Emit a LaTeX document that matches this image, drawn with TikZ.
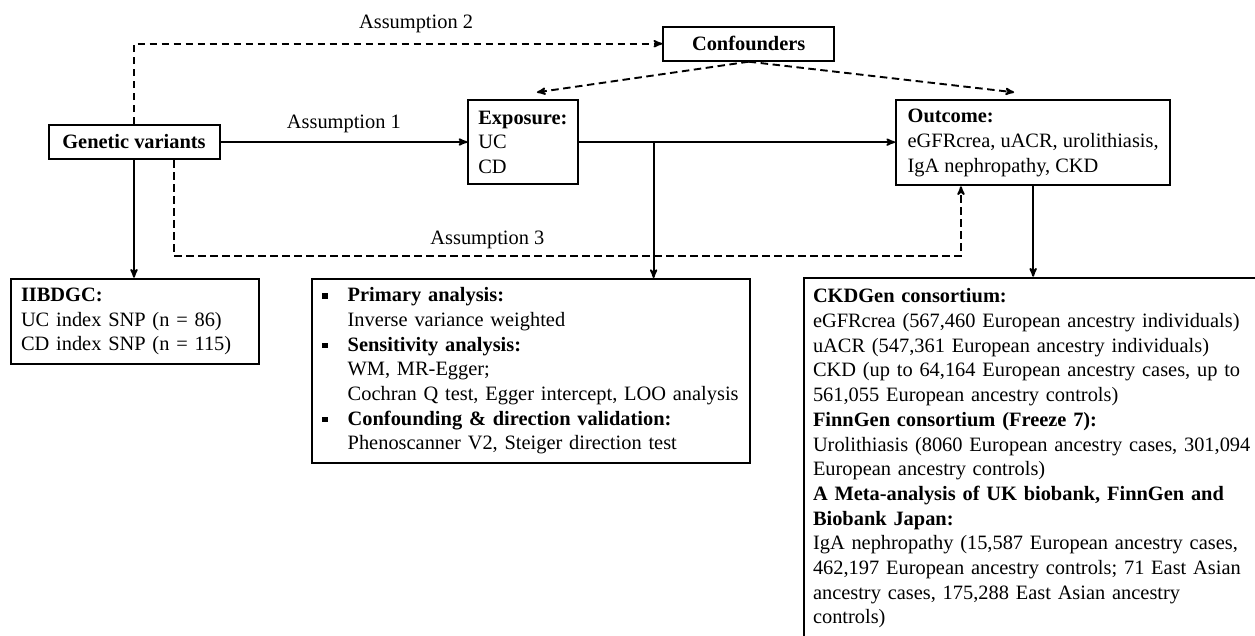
\documentclass[tikz,border=0pt]{standalone}
\usepackage{fontspec}
\setmainfont{Liberation Serif}
\usepackage{tikz}
\usetikzlibrary{shapes,arrows}
\tikzstyle{box} = [draw, rectangle, line width=2pt, align=left, font=\fontsize{20.4}{24.7}\selectfont]
\tikzstyle{lbl} = [font=\fontsize{20.4}{24.7}\selectfont, inner sep=3pt]
\tikzstyle{dashline} = [dash pattern=on 7.5pt off 4.5pt]
\newcommand{\sqbullet}{\makebox[25.7pt][l]{\rule[3pt]{5.5pt}{5.5pt}}}
\newcommand{\sqindent}{\hspace*{25.7pt}}

\begin{document}
\begin{tikzpicture}[->,>=stealth',x=1pt,y=1pt,line width=1.9pt]

\useasboundingbox (0,-635) rectangle (1255,0);
\clip (0,-635) rectangle (1255,0);

\node[box, align=center, minimum width=171pt, minimum height=34pt] (gen) at (134,-142) {\textbf{Genetic variants}};
\node[box, align=center, minimum width=171pt, minimum height=34pt] (conf) at (748.7,-43.7) {\textbf{Confounders}};
\node[box, anchor=north west, minimum width=109.3pt, minimum height=84.3pt] (expo) at (467.3,-99) {\textbf{Exposure:}\\UC\\CD};
\node[box, anchor=north west, minimum width=274.3pt, minimum height=85pt] (outc) at (895,-99.3) {\textbf{Outcome:}\\eGFRcrea, uACR, urolithiasis,\\IgA nephropathy, CKD};

\node[box, anchor=north west, text width=227.7pt, inner xsep=10pt, minimum height=85.7pt] (iibd) at (10,-277.7) {\textbf{IIBDGC:}\\UC index SNP (n = 86)\\CD index SNP (n = 115)};
\node[box, anchor=north west, text width=418pt, inner xsep=10pt, minimum height=184pt] (anal) at (311,-278) {\sqbullet\textbf{Primary analysis:}\\
\sqindent Inverse variance weighted\\
\sqbullet\textbf{Sensitivity analysis:}\\
\sqindent WM, MR-Egger;\\
\sqindent\mbox{Cochran Q test, Egger intercept, LOO analysis}\\
\sqbullet\textbf{Confounding \& direction validation:}\\
\sqindent Phenoscanner V2, Steiger direction test};
\node[box, anchor=north west, text width=450pt, inner xsep=9.3pt, inner ysep=11pt] (data) at (802.7,-276.7) {\textbf{CKDGen consortium:}\\
eGFRcrea (567,460 European ancestry individuals)\\
uACR (547,361 European ancestry individuals)\\
CKD (up to 64,164 European ancestry cases, up to\\
561,055 European ancestry controls)\\
\textbf{FinnGen consortium (Freeze 7):}\\
Urolithiasis (8060 European ancestry cases, 301,094\\
European ancestry controls)\\
\textbf{A Meta-analysis of UK biobank, FinnGen and}\\
\textbf{Biobank Japan:}\\
IgA nephropathy (15,587 European ancestry cases,\\
462,197 European ancestry controls; 71 East Asian\\
ancestry cases, 175,288 East Asian ancestry\\
controls)};

\coordinate (split) at ([xshift=75pt]expo.east);
\coordinate (expotip) at ([xshift=14pt,yshift=6.7pt]expo.north);
\coordinate (outctip) at ([xshift=-19pt,yshift=7pt]outc.north);

% causal paths
\draw (gen.east) -- node[lbl, above=5.4pt] {Assumption 1} (gen.east -| expo.west);
\draw[dashline] (gen.north) |- node[lbl, pos=0.767, above=7.3pt] {Assumption 2} (conf.west);
\draw[dashline] (conf.south) -- (expotip);
\draw[dashline] (conf.south) -- (outctip);
\draw (expo.east) -- (expo.east -| outc.west);
\draw[dashline] ([xshift=40.3pt]gen.south) -- ++(0,-96) -| node[lbl, pos=0.199, above=3.5pt] {Assumption 3} ([xshift=-72.2pt]outc.south);

% data sources and methods
\draw (gen.south) -- (gen.south |- iibd.north);
\draw (split) -- (split |- anal.north);
\draw (outc.south) -- (outc.south |- data.north);
\end{tikzpicture}
\end{document}
